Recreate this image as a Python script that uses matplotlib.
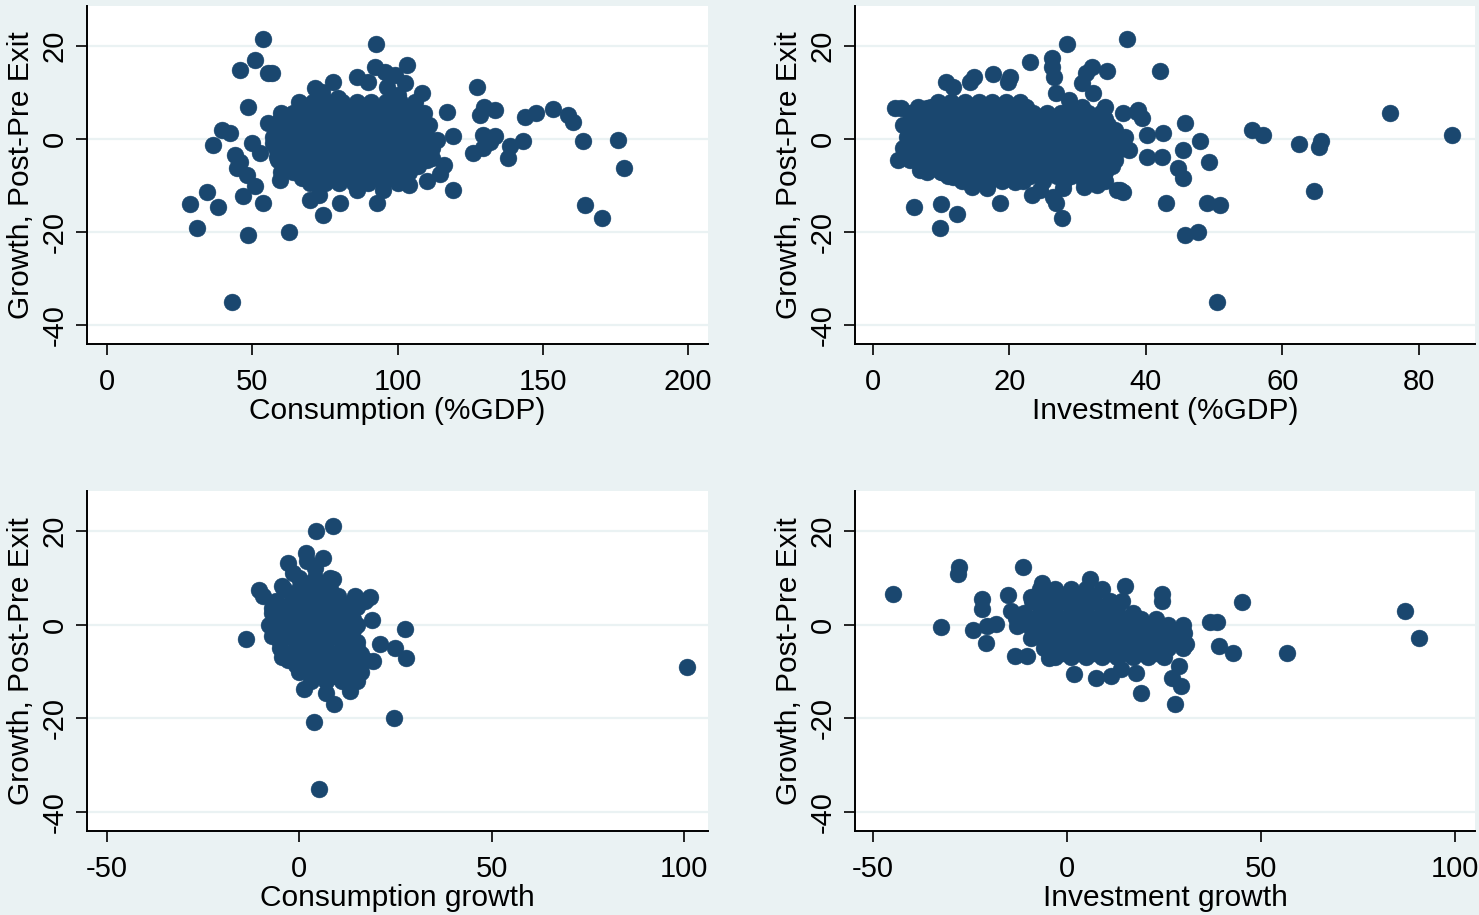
import matplotlib.pyplot as plt

plt.rcParams['font.family'] = ['Liberation Sans', 'DejaVu Sans']
plt.rcParams['axes.unicode_minus'] = False

# ---- data: (x, growth post-pre exit) ----

# consumption (%GDP): scattered points
cons_gdp_pts = [
    (53.7, 21.4), (92.6, 20.3), (51, 16.9), (45.8, 14.8), (55.4, 14.1), (56.8, 14.1),
    (48.5, 6.9), (39.6, 1.9), (42.3, 1.3), (36.5, -1.3), (49.9, -0.9), (52.7, -3.0),
    (44, -3.4), (45.8, -4.9), (44.8, -6.2), (48.2, -7.7), (50.9, -10.1), (34.4, -11.3),
    (28.6, -13.9), (38.2, -14.6), (46.8, -12.2), (53.7, -13.7), (59.5, -8.8), (31, -19.1),
    (48.5, -20.6), (62.7, -19.9), (43, -34.9), (55.4, 3.4), (59.6, 4.0), (57, -0.9),
    (58.5, -3.9), (77.8, 12.2), (71.6, 10.9), (86.1, 13.3), (89.8, 12.2), (92.3, 15.4),
    (95.7, 14.3), (103.3, 15.8), (102.6, 12), (99.1, 13.7), (96.4, 11.1), (108.4, 9.9),
    (79.5, 8.8), (74, 10), (100, 9.5), (117, 5.8), (119.1, 0.6), (113.6, -0.2),
    (114.6, -7.5), (119.1, -10.9), (127.4, 11.1), (129.8, 6.9), (133.6, 6.2), (128.4, 5.1),
    (143.9, 4.7), (147.7, 5.6), (153.5, 6.4), (158.7, 5.1), (160.4, 3.6), (163.9, -0.4),
    (175.9, -0.2), (178, -6.2), (164.5, -14.1), (170.4, -16.9), (129.4, 0.9), (133.6, 0.6),
    (131.8, -0.6), (126, -3), (129.4, -1.9), (138.7, -1.5), (138, -4.1), (143.2, -0.4),
    (112, -4), (116, -5.5), (110, -9), (92.9, -13.7), (80.2, -13.7), (74.4, -16.3),
    (69.9, -13.1), (73, -12), (86, -11), (95, -11), (104, -10), (60, -7),
]
# consumption (%GDP): the dense cloud, one row per growth level
cons_gdp_rows = {
    8.0: [66, 71, 76, 81, 86, 91, 96, 101, 106],
    6.8: [68.5, 73.5, 78.5, 83.5, 88.5, 93.5, 98.5, 103.5],
    5.5: [60, 64, 69, 74, 79, 84, 89, 94, 99, 104, 109],
    4.2: [61.5, 66.5, 71.5, 76.5, 81.5, 86.5, 91.5, 96.5, 101.5, 106],
    3.0: [58, 62, 67, 72, 77, 82, 87, 92, 97, 102, 107, 111],
    1.8: [59, 64, 69, 74, 79, 84, 89, 94, 99, 104, 108.5],
    0.5: [57, 61, 65, 70, 75, 80, 85, 90, 95, 100, 105, 110],
    -0.8: [60.5, 66, 71.5, 76.5, 81.5, 86.5, 91.5, 96.5, 101.5, 106, 110.5],
    -2.0: [58, 63, 68, 73, 78, 83, 88, 93, 98, 103, 108, 112],
    -3.2: [60.5, 65.5, 70.5, 75.5, 80.5, 85.5, 90.5, 95.5, 100.5, 105.5],
    -4.5: [59, 62, 66, 71, 76, 81, 86, 91, 96, 101, 106, 110],
    -5.8: [62, 67, 72, 77, 82, 87, 92, 97, 102, 107],
    -7.0: [64, 69, 74, 79, 84, 89, 94, 99, 104],
    -8.3: [67, 72, 77, 82, 87, 92, 97, 101],
    -9.5: [70, 75, 80, 85, 90, 95, 100],
}

# investment (%GDP)
inv_gdp_pts = [
    (3.2, 6.6), (4.2, 6.6), (3.7, -4.5), (10.8, 12.2), (11.7, 11.1), (14.2, 12.2),
    (14.9, 13.3), (17.6, 13.9), (20.1, 13.3), (19.8, 12.2), (23, 16.5), (26.2, 17.3),
    (26.2, 15.4), (26.6, 13.3), (28.4, 20.3), (37.3, 21.4), (32.1, 15.4), (34.3, 14.6),
    (31.3, 14.1), (30.6, 12), (32.2, 9.9), (26.9, 9.9), (28.8, 8.4), (30.7, 6.9),
    (34, 6.9), (36.6, 5.6), (38.7, 5.8), (39.5, 4.5), (40.1, 0.9), (40.1, -3.9),
    (37.6, -2.4), (36.5, 0.2), (6.1, -14.6), (10, -13.9), (12.3, -16.1), (9.8, -19.1),
    (18.7, -13.7), (27.7, -16.9), (26.9, -13.7), (26.4, -12.4), (27.8, -10.5), (23.3, -12),
    (24.5, -10.9), (14.6, -10.3), (16.7, -10.5), (20.8, -9.2), (31, -10.3), (32.9, -9.9),
    (35.7, -10.9), (36.6, -11.3), (10.2, -7.1), (6.9, -6.6), (11.7, -8.1), (42, 14.6),
    (38.8, 6.2), (45.7, 3.4), (42.5, 1.3), (47.9, -0.4), (45.4, -2.4), (42.3, -3.9),
    (44.7, -6.2), (45.4, -8.4), (49.2, -4.9), (36.2, -10.9), (42.9, -13.7), (48.9, -13.7),
    (50.8, -14.1), (45.8, -20.6), (47.7, -19.9), (55.6, 1.9), (57.1, 0.9), (62.4, -1.1),
    (65.4, -1.7), (65.7, -0.4), (64.6, -11.1), (75.7, 5.6), (84.9, 0.9), (50.4, -34.9),
    (6.6, 6.9), (7.9, 6.6),
]
inv_gdp_rows = {
    8.0: [9.5, 11.5, 13.5, 15.5, 17.5, 19.5, 21.5],
    6.8: [8.5, 10.5, 12.5, 14.5, 16.5, 18.5, 20.5, 22.5],
    5.5: [5.5, 7.5, 9.5, 11.5, 13.5, 15.5, 17.5, 19.5, 21.5, 23.5, 25.5, 27.5, 29.5, 31.5, 33.5],
    4.2: [6.5, 8.5, 10.5, 12.5, 14.5, 16.5, 18.5, 20.5, 22.5, 24.5, 26.5, 28.5, 30.5, 32.5, 34],
    3.0: [4.5, 6.5, 8.5, 10.5, 12.5, 14.5, 16.5, 18.5, 20.5, 22.5, 24.5, 26.5, 28.5, 30.5, 32.5, 34.5],
    1.8: [5.5, 7.5, 9.5, 11.5, 13.5, 15.5, 17.5, 19.5, 21.5, 23.5, 25.5, 27.5, 29.5, 31.5, 33.5, 35.5],
    0.5: [5, 7, 9, 11, 13, 15, 17, 19, 21, 23, 25, 27, 29, 31, 33, 35, 37],
    -0.8: [6, 8, 10, 12, 14, 16, 18, 20, 22, 24, 26, 28, 30, 32, 34, 36],
    -2.0: [4.5, 6.5, 8.5, 10.5, 12.5, 14.5, 16.5, 18.5, 20.5, 22.5, 24.5, 26.5, 28.5, 30.5, 32.5, 34.5, 36.5],
    -3.2: [5.5, 7.5, 9.5, 11.5, 13.5, 15.5, 17.5, 19.5, 21.5, 23.5, 25.5, 27.5, 29.5, 31.5, 33.5, 35.5],
    -4.5: [5.5, 7.5, 9.5, 11.5, 13.5, 15.5, 17.5, 19.5, 21.5, 23.5, 25.5, 27.5, 29.5, 31.5, 33.5, 35.5],
    -5.8: [7, 9, 11, 13, 15, 17, 19, 21, 23, 25, 27, 29, 31, 33, 35],
    -7.0: [8, 10, 12, 14, 16, 18, 20, 22, 24, 26, 28, 30, 32, 34],
    -8.0: [11, 13, 15, 17, 19, 21, 23, 25, 27, 29, 31, 33],
    -9.0: [13, 15, 17, 19, 22, 25, 28, 31, 34],
}

# consumption growth
cons_gr_pts = [
    (4.4, 19.9), (8.8, 21), (-2.9, 13.1), (1.6, 15.2), (6.2, 14.3), (-1.6, 11.1),
    (8.8, 9.8), (-10.6, 7.3), (-9.4, 6.2), (-4.4, 8.3), (14.5, 6.2), (18.4, 5.8),
    (-7, 3.6), (19, 0.9), (27.5, -0.9), (-14, -3), (21, -4.1), (24.9, -4.9),
    (27.8, -7.1), (19.2, -7.7), (-4.4, -6.8), (1.3, -13.7), (7, -14.5), (9.1, -16.9),
    (13.2, -14.1), (3.9, -20.8), (24.7, -19.9), (5.2, -35.1), (100.8, -9.0), (4, 12),
    (2, 13.5),
]
cons_gr_rows = {
    10.0: [0, 4, 8],
    8.7: [2, 6],
    7.5: [-4, 0, 4, 8],
    6.2: [-2, 2, 6, 10],
    5.0: [-6, -2, 2, 6, 10, 14, 17],
    3.7: [-5, -1, 3, 7, 11, 15],
    2.5: [-7, -3, 1, 5, 9, 13],
    1.2: [-6, -2, 2, 6, 10, 14],
    0.0: [-8, -4, 0, 4, 8, 12, 15],
    -1.2: [-6, -2, 2, 6, 10, 14],
    -2.5: [-7, -3, 1, 5, 9, 13],
    -3.7: [-5, -1, 3, 7, 11, 15],
    -5.0: [-5, -1, 3, 7, 11, 15],
    -6.2: [-3, 1, 5, 9, 13, 16],
    -7.5: [-3, 1, 5, 9, 13, 17],
    -8.7: [-1, 3, 7, 11, 15],
    -10.0: [0, 4, 8, 12, 16],
    -11.0: [5, 9, 13],
    -12.0: [3, 7, 11, 15],
}

# investment growth
inv_gr_pts = [
    (-44.7, 6.6), (-32.4, -0.6), (-27.8, 12.2), (-28, 10.7), (-21.9, 5.4), (-21.9, 3.4),
    (-24.2, -1.1), (-20.8, -3.9), (-20.6, -0.2), (-18.3, 0.2), (-15.2, 6.4), (-11.3, 12.2),
    (-14.4, 3), (-13.1, 1.5), (-12.9, -0.2), (-13.4, -6.6), (-10.3, -6.6), (-9.3, -2.8),
    (-4.6, -7.1), (-6.4, 8.8), (-9.3, 5.8), (5.9, 9.8), (14.9, 8.3), (14.1, 5.1),
    (24.4, 6.6), (24.4, 5.1), (1.8, -10.5), (7.5, -11.3), (11.3, -10.9), (13.9, -9.4),
    (17.7, -10.3), (19, -14.6), (28.8, -8.8), (27, -11.3), (29.3, -13.1), (28, -16.9),
    (30.8, -4.1), (30.1, -1.7), (27, -1.3), (36.8, 0.6), (38.8, 0.6), (39.3, -4.5),
    (42.9, -6), (45.2, 4.9), (56.8, -6), (87.1, 3), (90.7, -2.8),
]
inv_gr_rows = {
    7.5: [-7, -3, 1, 5, 9],
    6.2: [-5, -1, 3, 7],
    5.0: [-9, -5, -1, 3, 7, 11],
    3.7: [-7, -3, 1, 5, 9, 13],
    2.5: [-11, -7, -3, 1, 5, 9, 13, 17],
    1.2: [-9, -5, -1, 3, 7, 11, 15, 19, 23],
    0.0: [-10, -6, -2, 2, 6, 10, 14, 18, 22, 26, 30],
    -1.2: [-7, -3, 1, 5, 9, 13, 17, 21, 25, 29],
    -2.5: [-8, -4, 0, 4, 8, 12, 16, 20, 24, 28],
    -3.7: [-5, -1, 3, 7, 11, 15, 19, 23, 27],
    -5.0: [-6, -2, 2, 6, 10, 14, 18, 22, 26, 30],
    -6.0: [-1, 3, 7, 11, 15, 19, 23],
    -7.0: [-3, 1, 5, 9, 13, 17, 21, 25],
}

panels = [
    # pts, rows, xlabel, xticks, xlim, box (left, top, right, bottom in px)
    (cons_gdp_pts, cons_gdp_rows, "Consumption (%GDP)", [0, 50, 100, 150, 200], (-6.9, 206.9), (87, 6, 708, 344)),
    (inv_gdp_pts, inv_gdp_rows, "Investment (%GDP)", [0, 20, 40, 60, 80], (-2.6, 88.2), (855, 6, 1475, 344)),
    (cons_gr_pts, cons_gr_rows, "Consumption growth", [-50, 0, 50, 100], (-55.2, 106.2), (87, 491, 708, 831)),
    (inv_gr_pts, inv_gr_rows, "Investment growth", [-50, 0, 50, 100], (-54.6, 105.2), (855, 491, 1475, 831)),
]

BG = '#eaf2f3'
NAVY = '#1a476f'
W, H = 1479, 915

fig = plt.figure(figsize=(W / 100, H / 100), dpi=100, facecolor=BG)

for pts, rows, xlabel, xticks, xlim, box in panels:
    l, t, r, b = box
    ax = fig.add_axes([l / W, 1 - b / H, (r - l) / W, (b - t) / H])
    ax.set_facecolor('white')

    xs = [p[0] for p in pts]
    ys = [p[1] for p in pts]
    for yv, row in rows.items():
        xs += row
        ys += [yv] * len(row)
    ax.scatter(xs, ys, s=148, color=NAVY, edgecolors=NAVY, linewidths=0.3, zorder=3)

    ax.set_xlim(*xlim)
    ax.set_ylim(-44, 28.5)
    ax.set_xticks(xticks)
    ax.set_yticks([-40, -20, 0, 20])
    ax.yaxis.grid(True, color=BG, linewidth=1.6, zorder=0)
    ax.set_axisbelow(True)

    for side in ['top', 'right']:
        ax.spines[side].set_visible(False)
    for side in ['left', 'bottom']:
        ax.spines[side].set_linewidth(1.4)
        ax.spines[side].set_color('black')

    ax.tick_params(axis='both', direction='out', length=8, width=1.2, labelsize=21)
    ax.tick_params(axis='x', pad=9)
    ax.tick_params(axis='y', pad=5, labelrotation=90)
    for lab in ax.get_yticklabels():
        lab.set_va('center')

    ax.set_xlabel(xlabel, fontsize=21.5, labelpad=1)
    ax.set_ylabel("Growth, Post-Pre Exit", fontsize=21.5, labelpad=4)

fig.savefig("out.png", dpi=100, facecolor=BG)
